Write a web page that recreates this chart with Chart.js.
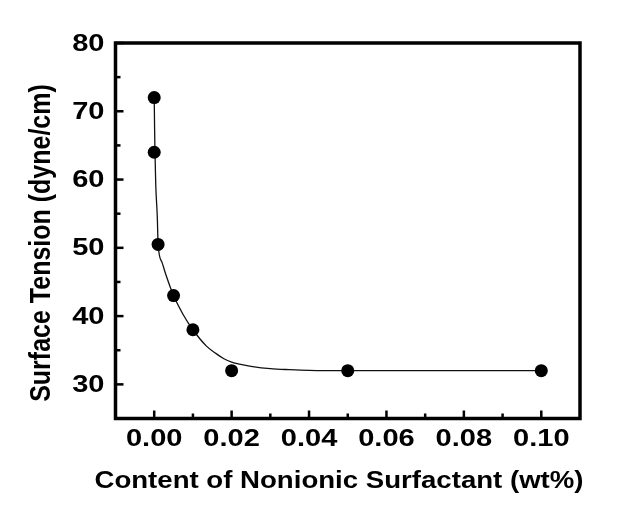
<!DOCTYPE html>
<html>
<head>
<meta charset="utf-8">
<script src="https://cdn.jsdelivr.net/npm/chart.js@4.4.0/dist/chart.umd.min.js"></script>
<style>
    html, body { margin: 0; padding: 0; background: #fff; }
    #caixa { width: 619px; height: 509px; }
</style>
</head>
<body>
<div id="caixa"><canvas id="grafico"></canvas></div>
<script>
// pontos medidos
const conteudo = [0, 0, 0.001, 0.005, 0.01, 0.02, 0.05, 0.1];
const tensao = [72, 64, 50.5, 43, 38, 32, 32, 32];

// curva ajustada
const curvaX = [0, 0.0001, 0.0002, 0.0004, 0.0008, 0.001, 0.002, 0.003, 0.005, 0.0075, 0.01, 0.0135, 0.016, 0.018, 0.02, 0.022, 0.025, 0.03, 0.035, 0.04, 0.05, 0.1];
const curvaY = [72.2, 67.5, 64, 59.2, 54.5, 50.6, 47.9, 46.1, 43, 40.2, 38, 35.6, 34.5, 33.75, 33.25, 32.95, 32.65, 32.3, 32.15, 32.05, 32, 32];

const ticksX = [0, 0.02, 0.04, 0.06, 0.08, 0.10];
const ticksY = [30, 40, 50, 60, 70, 80];
const minorX = [0.01, 0.03, 0.05, 0.07, 0.09];
const minorY = [35, 45, 55, 65, 75];

const tituloX = 'Content of Nonionic Surfactant (wt%)';
const tituloY = 'Surface Tension (dyne/cm)';

// o original tem o texto esticado na horizontal
const esticar = 1.21;
const esticarTitulo = 1.15;

// moldura, marcas para dentro e textos
let pluginMoldura = {
    id: 'moldura',
    afterDraw: function (chart) {
        let ctx = chart.ctx;
        let a = chart.chartArea;
        let sx = chart.scales.x;
        let sy = chart.scales.y;

        function linha(x1, y1, x2, y2) {
            ctx.beginPath();
            ctx.moveTo(x1, y1);
            ctx.lineTo(x2, y2);
            ctx.stroke();
        }

        function texto(t, x, y, alinhar, k) {
            ctx.save();
            ctx.translate(x, y);
            ctx.scale(k, 1);
            ctx.textAlign = alinhar;
            ctx.fillText(t, 0, 0);
            ctx.restore();
        }

        ctx.save();
        ctx.strokeStyle = '#000';
        ctx.lineWidth = 2.5;
        ticksX.forEach(v => { let x = sx.getPixelForValue(v); linha(x, a.bottom, x, a.bottom - 8); });
        minorX.forEach(v => { let x = sx.getPixelForValue(v); linha(x, a.bottom, x, a.bottom - 5); });
        ticksY.forEach(v => { let y = sy.getPixelForValue(v); linha(a.left, y, a.left + 8, y); });
        minorY.forEach(v => { let y = sy.getPixelForValue(v); linha(a.left, y, a.left + 5, y); });

        ctx.lineWidth = 3.5;
        ctx.strokeRect(a.left, a.top, a.right - a.left, a.bottom - a.top);

        ctx.fillStyle = '#000';
        ctx.textBaseline = 'alphabetic';
        ctx.font = 'bold 24px "Liberation Sans", Arial';
        ticksX.forEach(v => texto(v.toFixed(2), sx.getPixelForValue(v), a.bottom + 27.5, 'center', esticar));
        ticksY.forEach(v => texto(String(v), a.left - 11, sy.getPixelForValue(v) + 7.5, 'right', esticar));

        texto(tituloX, 339, 488, 'center', esticarTitulo);

        ctx.font = 'bold 25px "Liberation Sans", Arial';
        ctx.translate(50, 243);
        ctx.rotate(-Math.PI / 2);
        ctx.scale(1, 1.18);
        ctx.textAlign = 'center';
        ctx.fillText(tituloY, 0, 0);
        ctx.restore();
    }
};

new Chart(document.getElementById('grafico'), {
    type: 'line',
    data: {
        datasets: [
            {
                label: 'Medido',
                data: conteudo.map((x, i) => ({ x: x, y: tensao[i] })),
                showLine: false,
                pointRadius: 6.5,
                pointBackgroundColor: '#000',
                pointBorderColor: '#000',
                pointBorderWidth: 0
            },
            {
                label: 'Ajuste',
                data: curvaX.map((x, i) => ({ x: x, y: curvaY[i] })),
                borderColor: '#111',
                borderWidth: 1.3,
                pointRadius: 0,
                cubicInterpolationMode: 'monotone',
                fill: false
            }
        ]
    },
    options: {
        responsive: true,
        maintainAspectRatio: false,
        animation: false,
        layout: { padding: { top: 43, right: 39, left: 0, bottom: 0 } },
        scales: {
            x: {
                type: 'linear',
                min: -0.01,
                max: 0.11,
                afterBuildTicks: s => { s.ticks = ticksX.map(v => ({ value: v })); },
                afterFit: s => { s.height = 90.5; },
                grid: { display: false, drawTicks: false },
                border: { display: false },
                ticks: { display: false }
            },
            y: {
                min: 25,
                max: 80,
                afterBuildTicks: s => { s.ticks = ticksY.map(v => ({ value: v })); },
                afterFit: s => { s.width = 115.5; },
                grid: { display: false, drawTicks: false },
                border: { display: false },
                ticks: { display: false }
            }
        },
        plugins: {
            legend: { display: false },
            tooltip: { enabled: false }
        }
    },
    plugins: [pluginMoldura]
});
</script>
</body>
</html>
